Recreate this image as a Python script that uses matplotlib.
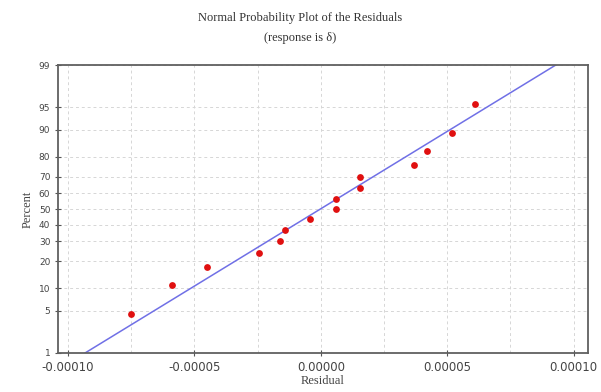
import numpy as np
import matplotlib.pyplot as plt
from statistics import NormalDist

# residuals
resid = [-7.5e-5, -5.9e-5, -4.5e-5, -2.46e-5, -1.6e-5, -1.4e-5, -4.4e-6, 6e-6,
         6e-6, 1.55e-5, 1.55e-5, 3.7e-5, 4.2e-5, 5.2e-5, 6.1e-5]
pct = [4.5, 11.0, 17.5, 24.0, 30.5, 37.0, 43.5, 50.0, 56.5, 63.0, 69.5, 76.0, 82.5, 89.0, 95.5]

# fitted line endpoints
fit_x = [-9.33e-5, 9.29e-5]
fit_pct = [1, 99]

yticks = [1, 5, 10, 20, 30, 40, 50, 60, 70, 80, 90, 95, 99]
xticks = [-0.0001, -0.00005, 0.0, 0.00005, 0.0001]
xtick_labels = ['-0.00010', '-0.00005', '0.00000', '0.00005', '0.00010']

nd = NormalDist()
def z(p):
    return [nd.inv_cdf(v / 100) for v in p]

fig = plt.figure(figsize=(6.01, 3.92), dpi=100)
ax = fig.add_axes([0.0965, 0.0995, 0.8815, 0.7345])

ax.plot(fit_x, z(fit_pct), color='#7070e6', lw=1.1, zorder=2)
ax.scatter(resid, z(pct), color='#e01010', s=24, zorder=3, linewidths=0)

ax.set_xlim(-0.000104, 0.0001056)
ax.set_ylim(z([1])[0], z([99])[0])
ax.set_yticks(z(yticks))
ax.set_yticklabels([str(t) for t in yticks], fontsize=6.5)
ax.set_xticks(xticks)
ax.set_xticklabels(xtick_labels, fontsize=8.5)
ax.set_xticks(np.arange(-0.0001, 0.00011, 0.000025), minor=True)

ax.grid(True, which='both', ls=(0, (3, 3)), color='#d6d6d6', lw=0.7)
ax.tick_params(direction='inout', length=4, width=0.8, colors='#555555', labelcolor='#444444')
ax.tick_params(which='minor', length=0)
for s in ax.spines.values():
    s.set_color('#606060')
    s.set_linewidth(1.3)

ax.set_ylabel('Percent', family='Liberation Serif', fontsize=9, color='#444444', labelpad=4)
ax.set_xlabel('Residual', family='Liberation Serif', fontsize=9, color='#444444', labelpad=1)
fig.text(0.5, 0.955, 'Normal Probability Plot of the Residuals', ha='center', va='center',
         family='Liberation Serif', fontsize=9, color='#333333')
fig.text(0.5, 0.903, '(response is \u03b4)', ha='center', va='center',
         family='Liberation Serif', fontsize=9, color='#333333')

fig.savefig('out.png', dpi=100)
